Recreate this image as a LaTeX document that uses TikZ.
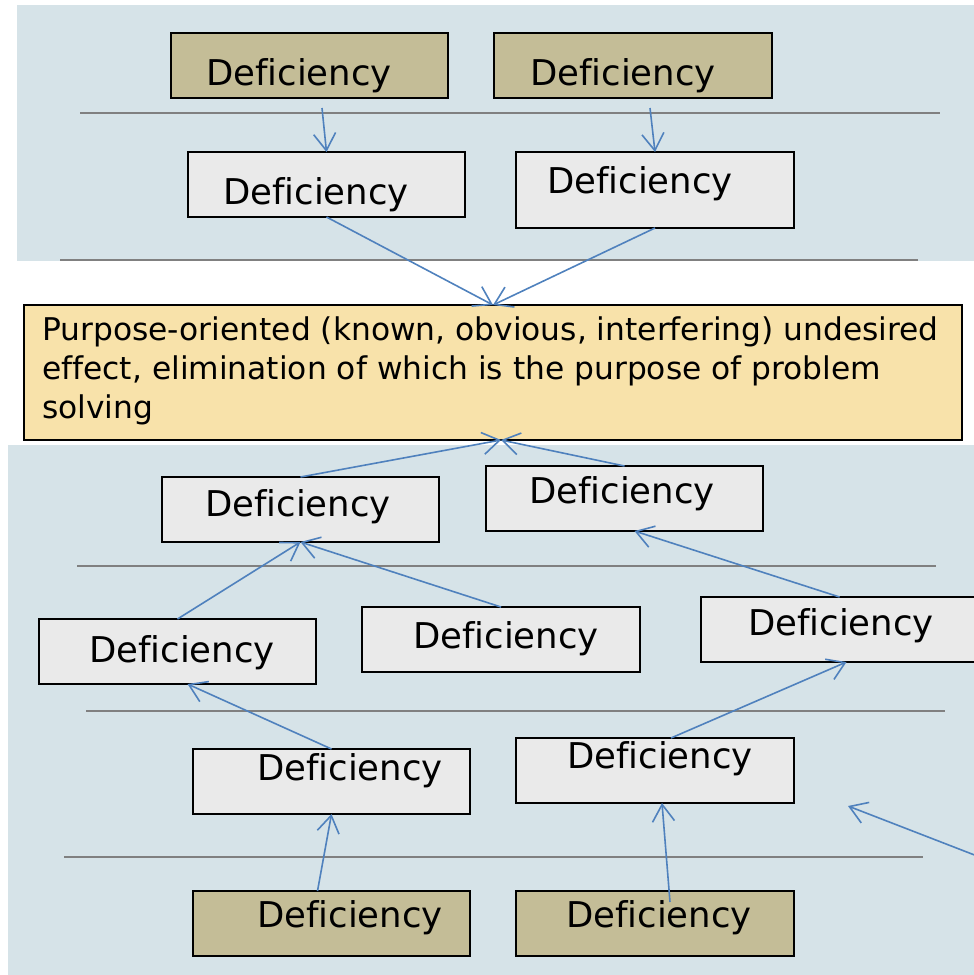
\documentclass[tikz,border=0pt]{standalone}
\usepackage{fontspec}
\setmainfont{DejaVu Sans}[Ligatures=NoCommon]
\usetikzlibrary{arrows.meta,calc}

\definecolor{panelblue}{RGB}{214,227,232}
\definecolor{roottan}{RGB}{196,189,151}
\definecolor{causegray}{RGB}{234,234,234}
\definecolor{goalyellow}{RGB}{248,226,170}
\definecolor{linkblue}{RGB}{79,129,189}
\definecolor{levelgray}{RGB}{128,128,128}

\begin{document}
\begin{tikzpicture}[x=1pt,y=-1pt,
  cause/.style={draw=black, line width=1.5pt, fill=causegray,
    minimum width=277pt, minimum height=65pt, inner sep=0pt, outer sep=0pt},
  root/.style={cause, fill=roottan},
  word/.style={anchor=base west, inner sep=0pt, outer sep=0pt,
    font=\fontsize{35.5}{42}\selectfont},
  link/.style={draw=linkblue, line width=1.6pt,
    -{Straight Barb[length=17pt,width=22pt,line width=1.6pt]}},
  level/.style={draw=levelgray, line width=2pt}]

\useasboundingbox (0,0) rectangle (974,975);
\clip (0,0) rectangle (974,975);

% background panels
\fill[panelblue] (17,5) rectangle (974,261);
\fill[panelblue] (8,445) rectangle (974,975);

% level separators
\draw[level] (80,113) -- (940,113);
\draw[level] (60,260) -- (918,260);
\draw[level] (77,566) -- (936,566);
\draw[level] (86,711) -- (945,711);
\draw[level] (64,857) -- (923,857);

% upper chain
\node[root] (r1) at (309.5,65.5) {};
\node[root, minimum width=278pt] (r2) at (633,65.5) {};
\node[cause] (g1) at (326.5,184.5) {};
\node[cause, minimum width=278pt, minimum height=76pt] (g2) at (655,190) {};

% goal box
\node[draw=black, line width=1.5pt, fill=goalyellow, minimum width=938pt,
  minimum height=135pt, inner sep=0pt, outer sep=0pt] (goal) at (493,372.5) {};
\node[anchor=base west, align=left, inner sep=0pt,
  font=\fontsize{31.3}{39}\selectfont] (goaltext) at (42,418)
  {Purpose-oriented (known, obvious, interfering) undesired\\
   effect, elimination of which is the purpose of problem\\
   solving};

% lower chain
\node[cause] (h1) at (300.5,509.5) {};
\node[cause] (h2) at (624.5,498.5) {};
\node[cause] (k1) at (177.5,651.5) {};
\node[cause, minimum width=278pt] (k2) at (501,639.5) {};
\node[cause] (k3) at (839.5,629.5) {};
\node[cause] (m1) at (331.5,781.5) {};
\node[cause, minimum width=278pt] (m2) at (655,770.5) {};
\node[root] (n1) at (331.5,923.5) {};
\node[root, minimum width=278pt] (n2) at (655,923.5) {};

% labels
\node[word] (r1t) at (206,85) {Deficiency};
\node[word] (r2t) at (530,85) {Deficiency};
\node[word] (g1t) at (223,204) {Deficiency};
\node[word] (g2t) at (547,193) {Deficiency};
\node[word] (h1t) at (205,516) {Deficiency};
\node[word] (h2t) at (529,503) {Deficiency};
\node[word] (k1t) at (89,662) {Deficiency};
\node[word] (k2t) at (413,648) {Deficiency};
\node[word] (k3t) at (748,635) {Deficiency};
\node[word] (m1t) at (257,780) {Deficiency};
\node[word] (m2t) at (567,768) {Deficiency};
\node[word] (n1t) at (257,927) {Deficiency};
\node[word] (n2t) at (566,927) {Deficiency};

% free ends
\coordinate (inflow) at (990,861);
\coordinate (inflowtip) at (848,806);

% connectors
\draw[link] ($(r1.south)+(12.5,10)$) -- (g1.north);
\draw[link] ($(r2.south)+(17,10)$) -- (g2.north);
\draw[link] (g1.south) -- (goal.north);
\draw[link] (g2.south) -- (goal.north);
\draw[link] (h1.north) -- ($(goal.south)+(8,0)$);
\draw[link] (h2.north) -- ($(goal.south)+(8,0)$);
\draw[link] (k1.north) -- (h1.south);
\draw[link] (k2.north) -- (h1.south);
\draw[link] (k3.north) -- ($(h2.south)+(10,0)$);
\draw[link] (m1.north) -- ($(k1.south)+(10,0)$);
\draw[link] ($(m2.north)+(16,0)$) -- ($(k3.south)+(7,0)$);
\draw[link] ($(n1.north)+(-14,0)$) -- (m1.south);
\draw[link] ($(n2.north)+(15,11)$) -- ($(m2.south)+(7,0)$);
\draw[link] (inflow) -- (inflowtip);
\end{tikzpicture}
\end{document}
